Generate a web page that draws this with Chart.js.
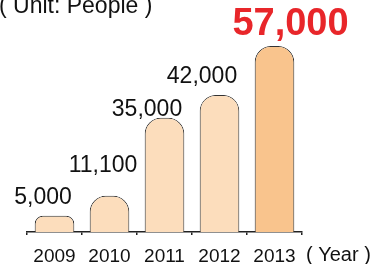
<!DOCTYPE html>
<html>
<head>
<meta charset="utf-8">
<script src="https://cdn.jsdelivr.net/npm/chart.js@4/dist/chart.umd.min.js"></script>
<style>
  html, body { margin: 0; padding: 0; background: #fff; }
  #wrap { width: 377px; height: 264px; position: relative; }
</style>
</head>
<body>
<div id="wrap"><canvas id="chart"></canvas></div>
<script>
const years = ['2009', '2010', '2011', '2012', '2013'];
const people = [5000, 11100, 35000, 42000, 57000];
const unitText = '( Unit: People )';
const yearText = '( Year )';

// label nudges relative to the top centre of each bar
const labelShift = [[-11.5, -11.5], [-6.5, -24], [-17.5, -2], [-17.5, -12], [16, -11]];

const FONT = '"Liberation Sans", Arial, "Noto Sans CJK JP", sans-serif';

const barLabels = {
    id: 'barLabels',
    afterDatasetsDraw(chart) {
        const { ctx } = chart;
        const meta = chart.getDatasetMeta(0);
        ctx.save();
        ctx.textAlign = 'center';
        ctx.textBaseline = 'alphabetic';
        meta.data.forEach((bar, i) => {
            const last = i === people.length - 1;
            ctx.font = last ? `bold 38px ${FONT}` : `23px ${FONT}`;
            ctx.fillStyle = last ? '#e8262a' : '#111';
            const [dx, dy] = labelShift[i];
            ctx.fillText(people[i].toLocaleString('en-US'), bar.x + dx, bar.y + dy);
        });

        // unit note and axis caption
        ctx.textAlign = 'left';
        ctx.fillStyle = '#111';
        ctx.font = `23px ${FONT}`;
        ctx.fillText(unitText, -1, 13);
        ctx.font = `20px ${FONT}`;
        ctx.fillText(yearText, 306, 261);
        ctx.restore();
    }
};

new Chart(document.getElementById('chart'), {
    type: 'bar',
    data: {
        labels: years,
        datasets: [{
            data: people,
            backgroundColor: ['#fcddbc', '#fcddbc', '#fcddbc', '#fcddbc', '#f9c48d'],
            borderColor: '#333',
            borderWidth: 1,
            borderSkipped: 'bottom',
            borderRadius: { topLeft: 16, topRight: 16 },
            categoryPercentage: 1,
            barPercentage: 0.72,
            clip: false
        }]
    },
    options: {
        responsive: true,
        maintainAspectRatio: false,
        animation: false,
        layout: { padding: { top: 46, left: 27, right: 75, bottom: 0 } },
        plugins: {
            legend: { display: false },
            tooltip: { enabled: false }
        },
        scales: {
            x: {
                afterFit: (scale) => { scale.height = 32; },
                border: { display: true, color: '#222', width: 1.5 },
                grid: {
                    display: true,
                    drawOnChartArea: false,
                    drawTicks: true,
                    tickLength: 3,
                    color: '#222',
                    lineWidth: 1.5
                },
                ticks: {
                    color: '#111',
                    padding: 10,
                    font: { family: FONT, size: 19 }
                }
            },
            y: {
                display: false,
                min: 0,
                max: 57000
            }
        }
    },
    plugins: [barLabels]
});
</script>
</body>
</html>
